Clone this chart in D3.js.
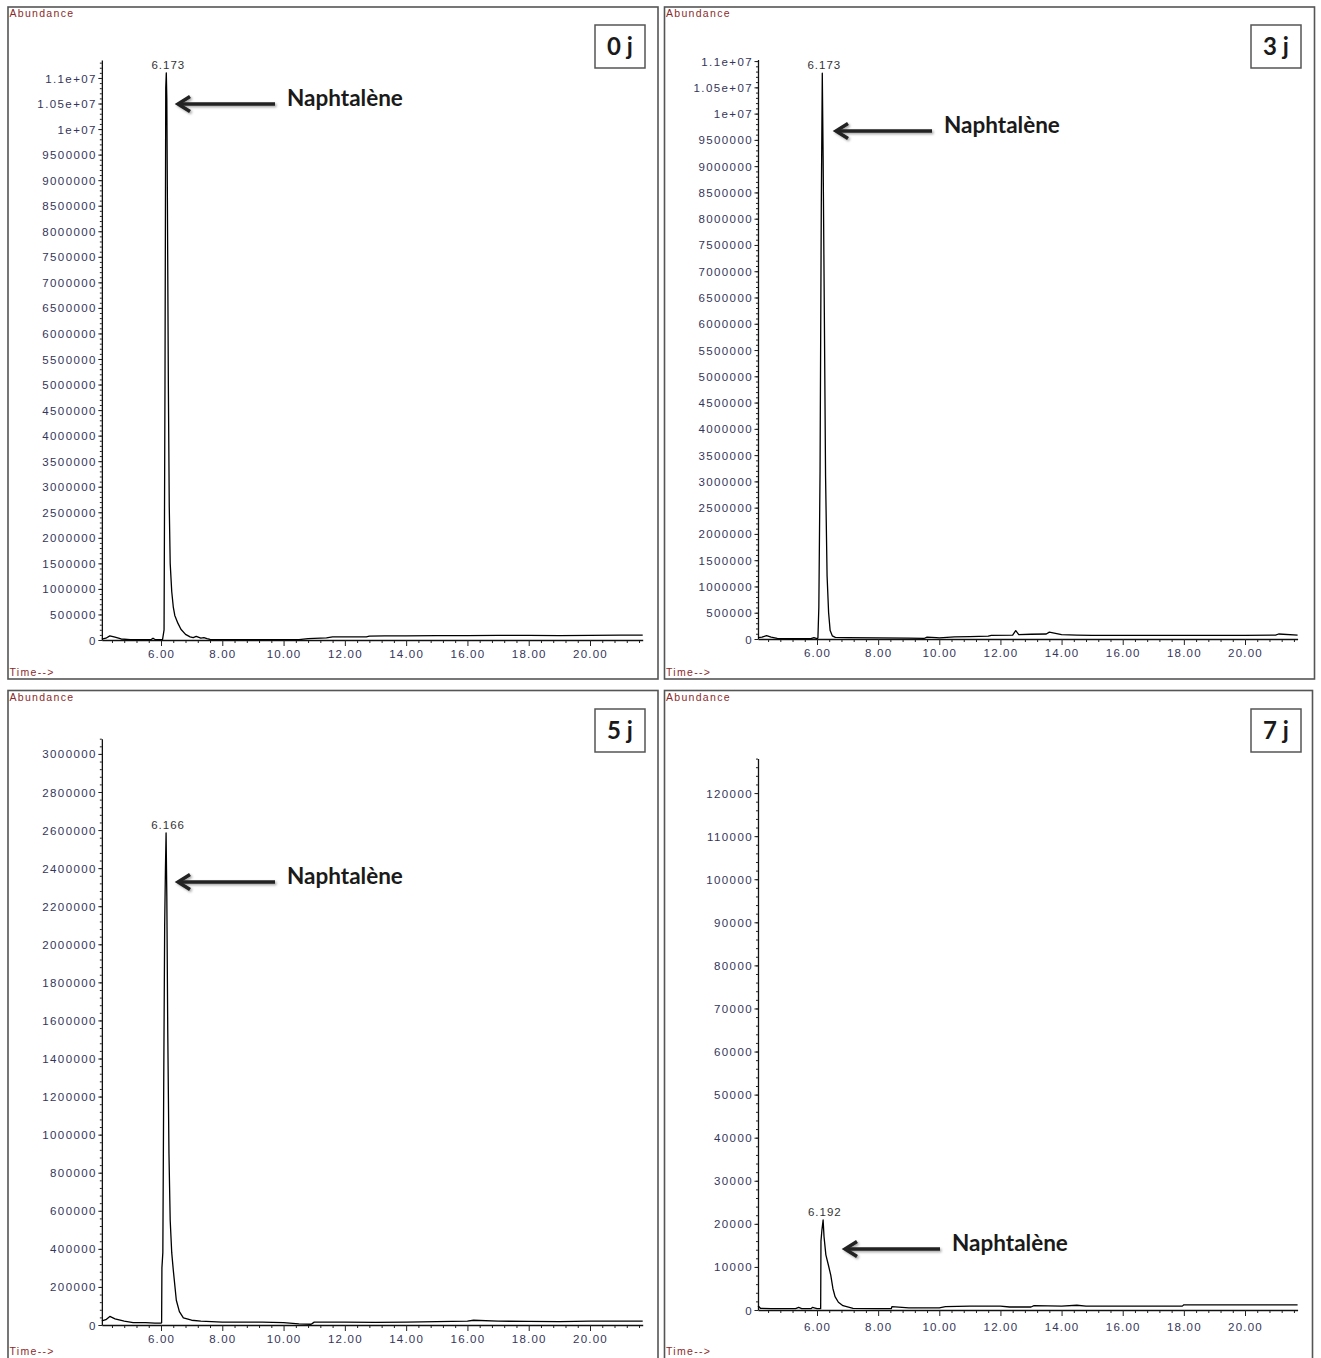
<!DOCTYPE html>
<html><head><meta charset="utf-8">
<script src="https://cdn.jsdelivr.net/npm/d3@7"></script>
<style>
html,body{margin:0;padding:0;background:#fff;}
svg{display:block;}
.tick text{font-family:"Liberation Sans",Arial,sans-serif;}
</style></head>
<body>
<script>
// ---------- DATA ----------
const panelTitles = ["0 j", "3 j", "5 j", "7 j"];
const peakLabels = ["6.173", "6.173", "6.166", "6.192"];
const peakTimes = [6.173, 6.173, 6.166, 6.192];
const compoundName = "Naphtalène";
const yAxisTitle = "Abundance";
const xAxisTitle = "Time-->";

const xTickValues = [6, 8, 10, 12, 14, 16, 18, 20];

const yTicks0 = [0,500000,1000000,1500000,2000000,2500000,3000000,3500000,4000000,4500000,5000000,5500000,6000000,6500000,7000000,7500000,8000000,8500000,9000000,9500000,10000000,10500000,11000000];
const yTicks1 = yTicks0;
const yTicks2 = [0,200000,400000,600000,800000,1000000,1200000,1400000,1600000,1800000,2000000,2200000,2400000,2600000,2800000,3000000];
const yTicks3 = [0,10000,20000,30000,40000,50000,60000,70000,80000,90000,100000,110000,120000];

// chromatogram 0 j
const time0 = [4.07,4.2,4.33,4.5,4.7,5.0,5.5,5.68,5.74,5.82,6.05,6.1,6.13,6.155,6.173,6.19,6.21,6.24,6.27,6.3,6.35,6.4,6.45,6.55,6.65,6.8,6.95,7.05,7.15,7.3,7.4,7.5,7.6,8.0,9.0,10.5,10.8,11.4,11.6,12.0,12.7,12.8,13.3,14.0,15.0,16.0,17.0,18.0,19.0,20.0,21.0,21.72];
const abund0 = [15000,35000,80000,55000,20000,8000,6000,8000,35000,6000,6000,200000,5000000,10800000,11100000,10600000,8500000,5000000,2600000,1500000,950000,650000,480000,330000,210000,110000,60000,45000,70000,35000,45000,25000,10000,6000,6000,8000,25000,40000,60000,60000,60000,75000,80000,80000,85000,85000,90000,90000,85000,90000,95000,95000];

// chromatogram 3 j
const time1 = [4.07,4.2,4.35,4.5,4.7,5.0,5.8,5.9,6.0,6.03,6.06,6.1,6.14,6.173,6.2,6.24,6.28,6.33,6.38,6.43,6.5,6.6,7.0,8.0,9.0,9.5,9.6,9.9,10.0,10.5,11.0,11.6,11.7,12.4,12.5,12.6,13.0,13.5,13.6,14.0,14.5,15.0,16.0,18.0,20.0,21.0,21.1,21.72];
const abund1 = [25000,35000,65000,35000,10000,5000,5000,25000,5000,20000,600000,3200000,8200000,10770000,9200000,6200000,3100000,1200000,500000,160000,60000,30000,25000,20000,15000,10000,35000,25000,20000,40000,45000,55000,70000,75000,160000,85000,90000,95000,130000,85000,75000,70000,70000,70000,70000,75000,95000,75000];

// chromatogram 5 j
const time2 = [4.07,4.2,4.33,4.5,4.8,5.09,5.5,5.8,6.0,6.02,6.03,6.06,6.09,6.12,6.145,6.166,6.19,6.22,6.26,6.3,6.35,6.4,6.5,6.6,6.73,7.0,7.3,8.0,9.3,10.0,10.5,10.9,11.0,12.0,13.0,14.0,15.0,16.0,16.2,17.0,18.0,19.0,20.0,21.0,21.72];
const abund2 = [22000,28000,45000,32000,20000,13000,12000,10000,10000,12000,300000,380000,1300000,2100000,2400000,2585000,2250000,1550000,900000,550000,380000,290000,130000,70000,37000,25000,20000,15000,15000,13000,6000,4000,15000,15000,14000,15000,18000,20000,25000,20000,19000,18000,20000,20000,20000];

// chromatogram 7 j
const time3 = [4.07,4.15,4.5,5.0,5.3,5.4,5.5,5.8,5.85,6.0,6.12,6.13,6.16,6.2,6.23,6.29,6.37,6.45,6.52,6.59,6.7,6.85,7.18,8.0,8.43,8.45,9.0,10.0,10.2,11.0,12.0,12.3,13.0,13.1,14.0,14.5,14.8,16.0,17.95,18.0,20.0,21.72];
const abund3 = [1000,400,300,300,300,600,300,300,600,300,300,16000,18500,20900,17000,12800,10500,8100,5000,3100,1800,1000,400,300,300,800,500,500,800,900,900,700,700,1000,900,1100,900,900,900,1200,1200,1200];

// ---------- LAYOUT ----------
const W = 1321, H = 1358;
const svg = d3.select("body").append("svg").attr("width", W).attr("height", H);

const defs = svg.append("defs");
const f = defs.append("filter").attr("id","shadow").attr("x","-20%").attr("y","-50%").attr("width","140%").attr("height","200%");
f.append("feDropShadow").attr("dx",1.5).attr("dy",1.5).attr("stdDeviation",1).attr("flood-color","#000").attr("flood-opacity",0.35);

const layouts = [
  {fx:8, fy:7, fw:650, fh:672, x6:161, x20:590, y0:640, yTopPx:60.1, yMax:11350000, minorY:100000,
   ticks:yTicks0, time:time0, abund:abund0, arrowY:104, tip:178, tail:275, textX:287,
   boxX:595, boxY:25, labDy:14, timeY:676},
  {fx:664.5, fy:7, fw:650, fh:672, x6:817, x20:1245, y0:639, yTopPx:59.5, yMax:11030000, minorY:100000,
   ticks:yTicks1, time:time1, abund:abund1, arrowY:131, tip:836, tail:932, textX:944,
   boxX:1251, boxY:25, labDy:14, timeY:676},
  {fx:8, fy:690.5, fw:650, fh:674, x6:161, x20:590, y0:1325, yTopPx:738.7, yMax:3080000, minorY:40000,
   ticks:yTicks2, time:time2, abund:abund2, arrowY:882, tip:178, tail:275, textX:287,
   boxX:595, boxY:709, labDy:14, timeY:1355},
  {fx:664.5, fy:690.5, fw:648, fh:674, x6:817, x20:1245, y0:1310, yTopPx:758.6, yMax:128000, minorY:2000,
   ticks:yTicks3, time:time3, abund:abund3, arrowY:1249, tip:845, tail:940, textX:952,
   boxX:1251, boxY:709, labDy:17, timeY:1355}
];

const tickColor = "#35355a";
const fmtY = v => v >= 1e7 ? (v/1e7) + "e+07" : String(v);
const fmtX = d3.format(".2f");

layouts.forEach((L, i) => {
  const g = svg.append("g");
  // frame
  g.append("rect").attr("x", L.fx).attr("y", L.fy).attr("width", L.fw).attr("height", L.fh)
    .attr("fill", "none").attr("stroke", "#555").attr("stroke-width", 1.6);

  const pxPerMin = (L.x20 - L.x6) / 14;
  const tMin = 4.07, tMax = 21.72;
  const x = d3.scaleLinear().domain([tMin, tMax])
    .range([L.x6 + (tMin - 6) * pxPerMin, L.x6 + (tMax - 6) * pxPerMin]);
  const y = d3.scaleLinear().domain([0, L.yMax]).range([L.y0, L.yTopPx]);
  const xl = x.range()[0];

  // y minor ticks
  const minorVals = d3.range(0, L.yMax + 1, L.minorY);
  g.append("g").attr("transform", `translate(${xl},0)`)
    .call(d3.axisLeft(y).tickValues(minorVals).tickSize(2).tickFormat(""))
    .call(s => s.select(".domain").remove())
    .call(s => s.selectAll("line").attr("stroke", "#222"));
  // y major
  const ya = g.append("g").attr("transform", `translate(${xl},0)`)
    .call(d3.axisLeft(y).tickValues(L.ticks).tickSize(3.5).tickSizeOuter(0).tickPadding(0).tickFormat(fmtY));
  ya.select(".domain").attr("stroke", "#111").attr("stroke-width", 1.3);
  ya.selectAll("line").attr("stroke", "#222");
  ya.selectAll("text").attr("fill", tickColor).attr("font-size", 11.5).attr("letter-spacing", "1.4px")
    .attr("dy", "0.35em").attr("dx", "-1.5px");

  // x minor ticks
  const xMinor = d3.range(4.4, tMax, 0.4).filter(v => Math.abs((v / 2) - Math.round(v / 2)) > 0.01);
  g.append("g").attr("transform", `translate(0,${L.y0})`)
    .call(d3.axisBottom(x).tickValues(xMinor).tickSize(3).tickFormat(""))
    .call(s => s.select(".domain").remove())
    .call(s => s.selectAll("line").attr("stroke", "#222"));
  // x major
  const xa = g.append("g").attr("transform", `translate(0,${L.y0})`)
    .call(d3.axisBottom(x).tickValues(xTickValues).tickSize(6).tickSizeOuter(0).tickPadding(L.labDy - 10).tickFormat(fmtX));
  xa.select(".domain").attr("stroke", "#111").attr("stroke-width", 1.3);
  xa.selectAll("line").attr("stroke", "#222");
  xa.selectAll("text").attr("fill", tickColor).attr("font-size", 11.5).attr("letter-spacing", "1.2px");

  // trace
  const pts = L.time.map((t, k) => [t, L.abund[k]]);
  g.append("path").datum(pts)
    .attr("d", d3.line().x(d => x(d[0])).y(d => y(d[1])))
    .attr("fill", "none").attr("stroke", "#000").attr("stroke-width", 1.3).attr("stroke-linejoin", "round");

  // peak label
  const pk = d3.max(L.abund);
  g.append("text").attr("x", x(peakTimes[i]) + 2).attr("y", y(pk) - 4)
    .attr("text-anchor", "middle").attr("font-family", "Liberation Sans, Arial, sans-serif")
    .attr("font-size", 11.5).attr("letter-spacing", "1px").attr("fill", "#333").text(peakLabels[i]);

  // Abundance / Time labels
  g.append("text").attr("x", L.fx + 1.5).attr("y", L.fy + 10)
    .attr("font-family", "Liberation Sans, Arial, sans-serif").attr("font-size", 10.5)
    .attr("letter-spacing", "1.3px").attr("fill", "#8b2a2a").text(yAxisTitle);
  g.append("text").attr("x", L.fx + 1.5).attr("y", L.timeY)
    .attr("font-family", "Liberation Sans, Arial, sans-serif").attr("font-size", 10.5)
    .attr("letter-spacing", "1.3px").attr("fill", "#8b2a2a").text(xAxisTitle);

  // arrow annotation
  const ag = g.append("g").attr("filter", "url(#shadow)");
  ag.append("line").attr("x1", L.tail).attr("x2", L.tip + 3).attr("y1", L.arrowY).attr("y2", L.arrowY)
    .attr("stroke", "#222").attr("stroke-width", 3.5);
  ag.append("path").attr("d", `M${L.tip + 12},${L.arrowY - 7.5} L${L.tip},${L.arrowY} L${L.tip + 12},${L.arrowY + 7.5}`)
    .attr("fill", "none").attr("stroke", "#222").attr("stroke-width", 3.5).attr("stroke-linejoin", "miter");
  g.append("text").attr("x", L.textX).attr("y", L.arrowY - 4).attr("dominant-baseline", "middle")
    .attr("font-family", "Lato, 'Open Sans', sans-serif").attr("font-weight", "bold").attr("font-size", 22.5)
    .attr("fill", "#1a1a1a").text(compoundName);

  // box label
  g.append("rect").attr("x", L.boxX).attr("y", L.boxY).attr("width", 50).attr("height", 43)
    .attr("fill", "#fff").attr("stroke", "#555").attr("stroke-width", 1.5);
  g.append("text").attr("x", L.boxX + 25).attr("y", L.boxY + 24).attr("text-anchor", "middle")
    .attr("dominant-baseline", "middle").attr("font-family", "Lato, 'Open Sans', sans-serif")
    .attr("font-weight", "bold").attr("font-size", 24).attr("fill", "#1a1a1a").text(panelTitles[i]);
});
</script>
</body></html>
